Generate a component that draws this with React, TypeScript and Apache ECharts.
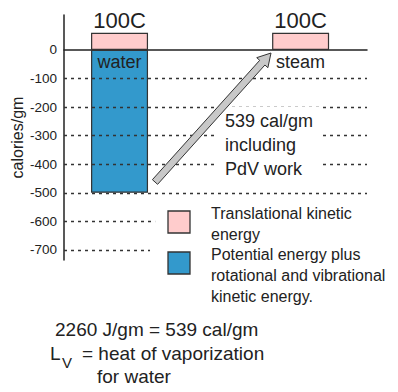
import React, { useEffect, useRef } from "react";
import * as echarts from "echarts";

// ---- data ----
const phases = ["water", "steam"];
const phaseX = [1, 4];
const temperatures = ["100C", "100C"];
const translationalKE = [60, 60]; // cal/gm above zero
const potentialEnergy = [-500, null]; // cal/gm (water only)
const yTicks = [0, -100, -200, -300, -400, -500, -600, -700];
const gridTicks = [-100, -200, -300, -400, -500, -600, -700];
const legendNames = [
  "Translational kinetic energy",
  "Potential energy plus rotational and vibrational kinetic energy.",
];
const legendLines = [
  ["Translational kinetic", "energy"],
  ["Potential energy plus", "rotational and vibrational", "kinetic energy."],
];
const arrowLabel = ["539 cal/gm", "including", "PdV work"];
const equationLine = "2260 J/gm = 539 cal/gm";
const lvSymbol = ["L", "V"];
const lvDefinition = ["= heat of vaporization", "for water"];
const yAxisName = "calories/gm";

// ---- styles ----
const FONT = "Liberation Sans, Arial, Helvetica, sans-serif";
const INK = "#222";
const PINK = "#ffcccc";
const BLUE = "#3399cc";
const X_MIN = 0.08;
const X_MAX = 5.1;
const shortGridEnd: Record<number, number> = { [-600]: 1.59, [-700]: 1.505 };

function arrowPoints(tail: number[], tip: number[]) {
  const dx = tip[0] - tail[0];
  const dy = tip[1] - tail[1];
  const L = Math.hypot(dx, dy);
  const u = [dx / L, dy / L];
  const n = [-u[1], u[0]];
  const sw = 3.5, hw = 7.5, hl = 13;
  const B = [tip[0] - hl * u[0], tip[1] - hl * u[1]];
  const p = (c: number[], k: number) => [c[0] + k * n[0], c[1] + k * n[1]];
  return [p(tail, sw), p(B, sw), p(B, hw), tip, p(B, -hw), p(B, -sw), p(tail, -sw)];
}

export default function App() {
  const ref = useRef<HTMLDivElement>(null);
  useEffect(() => {
    if (!ref.current) return;
    const chart = echarts.init(ref.current, undefined, { renderer: "svg" });
    const legendColors = [PINK, BLUE];
    const graphics: any[] = [];
    // arrow
    graphics.push({
      type: "polygon",
      z: 10,
      shape: { points: arrowPoints([155, 182], [271, 53]) },
      style: { fill: "#c8c8c8", stroke: "#333", lineWidth: 1 },
    });
    // arrow label
    graphics.push({
      type: "text",
      z: 9,
      x: 218,
      y: 107,
      style: {
        text: arrowLabel.join("\n"),
        fill: INK,
        fontSize: 18,
        fontFamily: FONT,
        lineHeight: 24,
        align: "left",
        verticalAlign: "top",
        backgroundColor: "#fff",
        padding: [2, 7, 2, 7],
      },
    });
    // legend
    const legendTop = [211, 252];
    legendLines.forEach((lines, i) => {
      graphics.push({
        type: "rect",
        z: 10,
        shape: { x: 168, y: legendTop[i], width: 22, height: 22 },
        style: { fill: legendColors[i], stroke: "#333", lineWidth: 1.3 },
      });
      graphics.push({
        type: "text",
        z: 10,
        x: 211,
        y: legendTop[i] - 8,
        style: {
          text: lines.join("\n"),
          fill: INK,
          fontSize: 16,
          fontFamily: FONT,
          lineHeight: 21,
          align: "left",
          verticalAlign: "top",
        },
      });
    });
    // bottom text
    const tx = (text: string, x: number, y: number, fs: number) => ({
      type: "text",
      z: 10,
      x,
      y,
      style: { text, fill: INK, fontSize: fs, fontFamily: FONT, align: "left", verticalAlign: "middle" },
    });
    graphics.push(tx(equationLine, 55, 329, 19));
    graphics.push(tx(lvSymbol[0], 50, 353, 19));
    graphics.push(tx(lvSymbol[1], 62, 362, 15));
    graphics.push(tx(lvDefinition[0], 82, 353, 19));
    graphics.push(tx(lvDefinition[1], 97, 376, 19));

    const gridLineData = gridTicks.map((v) => [
      { coord: [X_MIN, v] },
      { coord: [shortGridEnd[v] ?? X_MAX, v] },
    ]);

    chart.setOption({
      animation: false,
      textStyle: { fontFamily: FONT },
      grid: { left: 64, right: 31, top: 15, bottom: 132, outerBoundsMode: "none", containLabel: false },
      xAxis: {
        type: "value",
        min: X_MIN,
        max: X_MAX,
        axisLine: { show: true, onZero: true, lineStyle: { color: INK, width: 1.5 } },
        axisTick: { show: false },
        axisLabel: { show: false },
        splitLine: { show: false },
      },
      yAxis: {
        type: "value",
        min: -735,
        max: 122,
        splitNumber: 9,
        name: yAxisName,
        nameLocation: "middle",
        nameGap: 39,
        nameMoveOverlap: false,
        nameTextStyle: { fontSize: 16, color: INK, fontFamily: FONT },
        axisLine: { show: true, lineStyle: { color: INK, width: 1.5 } },
        axisTick: { show: false },
        splitLine: { show: false },
        axisLabel: {
          color: INK,
          fontSize: 13.5,
          fontFamily: FONT,
          margin: 7,
          showMinLabel: true,
          showMaxLabel: true,
          formatter: (v: number) => {
            const r = Math.round(v);
            return Math.abs(v - r) < 1e-6 && yTicks.includes(r) ? String(r) : "";
          },
        },
      },
      series: [
        {
          name: legendNames[0],
          type: "bar",
          barWidth: 57,
          barGap: "-100%",
          data: phaseX.map((x, i) => [x, translationalKE[i]]),
          itemStyle: { color: PINK, borderColor: "#333", borderWidth: 1.2 },
          label: {
            show: true,
            position: "top",
            distance: 1,
            color: INK,
            fontSize: 22,
            fontFamily: FONT,
            formatter: (p: any) => temperatures[p.dataIndex],
          },
        },
        {
          name: legendNames[1],
          type: "bar",
          barWidth: 57,
          barGap: "-100%",
          data: phaseX
            .map((x, i) => (potentialEnergy[i] == null ? null : [x, potentialEnergy[i]]))
            .filter((d) => d !== null),
          itemStyle: { color: BLUE, borderColor: "#333", borderWidth: 1.2 },
          markLine: {
            silent: true,
            symbol: ["none", "none"],
            label: { show: false },
            lineStyle: { color: "#333", width: 1.3, type: [3, 4] },
            data: gridLineData,
          },
        },
        {
          type: "scatter",
          symbolSize: 1,
          itemStyle: { color: "rgba(0,0,0,0)", opacity: 1 },
          data: phaseX.map((x) => [x, 0]),
          label: {
            show: true,
            position: "bottom",
            distance: 3,
            color: INK,
            opacity: 1,
            fontSize: 18,
            fontFamily: FONT,
            formatter: (p: any) => phases[p.dataIndex],
          },
        },
      ],
      graphic: { elements: graphics },
    });
    return () => chart.dispose();
  }, []);
  return (
    <div
      ref={ref}
      style={{ position: "fixed", left: 0, top: 0, width: 398, height: 392, background: "#fff" }}
    />
  );
}
